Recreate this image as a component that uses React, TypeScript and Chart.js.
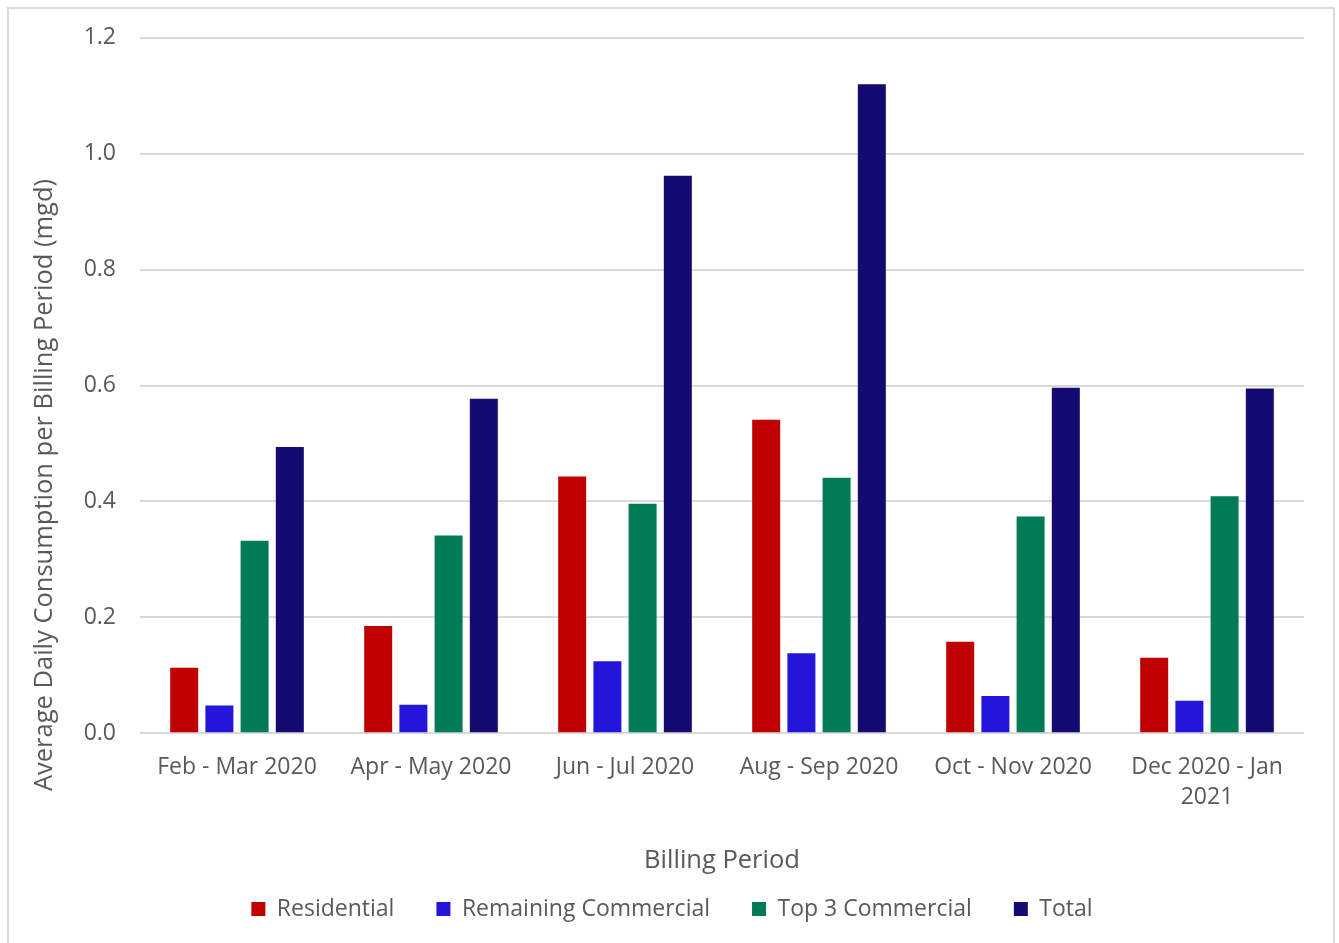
import { useEffect, useRef } from "react";
import { Chart, registerables } from "chart.js";

Chart.register(...registerables);

// Billing periods (last label wraps onto two lines)
const periods: (string | string[])[] = [
  "Feb - Mar 2020",
  "Apr - May 2020",
  "Jun - Jul 2020",
  "Aug - Sep 2020",
  "Oct - Nov 2020",
  ["Dec 2020 - Jan", "2021"],
];

// Average daily consumption (mgd)
const residential = [0.113, 0.185, 0.443, 0.541, 0.158, 0.13];
const remainingCommercial = [0.048, 0.049, 0.124, 0.138, 0.064, 0.056];
const top3Commercial = [0.332, 0.341, 0.396, 0.441, 0.374, 0.409];
const total = [0.494, 0.577, 0.962, 1.12, 0.596, 0.595];

const yTicks = [0, 0.2, 0.4, 0.6, 0.8, 1.0, 1.2];

const FONT = "'Open Sans', 'Noto Sans', sans-serif";
const TEXT = "#595959";
const GRID = "#d9d9d9";

const yTitleText = "Average Daily Consumption per Billing Period (mgd)";

// Draws the vertical value-axis title centred on the whole chart height.
const yTitlePlugin = {
  id: "yTitle",
  afterDraw(chart: Chart) {
    const { ctx } = chart;
    ctx.save();
    ctx.translate(45, 485);
    ctx.rotate(-Math.PI / 2);
    ctx.font = `25.5px ${FONT}`;
    ctx.fillStyle = TEXT;
    ctx.textAlign = "center";
    ctx.textBaseline = "middle";
    ctx.fillText(yTitleText, 0, 0);
    ctx.restore();
  },
};

// Nudges the legend row so it sits centred under the whole chart.
const legendOffsetPlugin = {
  id: "legendOffset",
  afterLayout(chart: Chart) {
    const legend: any = (chart as any).legend;
    if (!legend) return;
    legend.left += 20;
    legend.right += 20;
  },
};

export default function App() {
  const canvasRef = useRef<HTMLCanvasElement | null>(null);

  useEffect(() => {
    const canvas = canvasRef.current;
    if (!canvas) return;
    const chart = new Chart(canvas, {
      type: "bar",
      data: {
        labels: periods,
        datasets: [
          { label: "Residential", data: residential, backgroundColor: "#c00000" },
          { label: "Remaining Commercial", data: remainingCommercial, backgroundColor: "#2316da" },
          { label: "Top 3 Commercial", data: top3Commercial, backgroundColor: "#017b55" },
          { label: "Total", data: total, backgroundColor: "#130b6f" },
        ],
      },
      options: {
        responsive: false,
        animation: false,
        events: [],
        datasets: {
          bar: { categoryPercentage: 0.726, barPercentage: 0.795 },
        },
        layout: { padding: { top: 37, right: 35, bottom: 12.5, left: 0 } },
        scales: {
          x: {
            grid: { display: false },
            border: { display: false },
            ticks: {
              color: TEXT,
              padding: 11,
              maxRotation: 0,
              autoSkip: false,
              font: { family: FONT, size: 23, lineHeight: 1.3 },
            },
            title: {
              display: true,
              text: "Billing Period",
              color: TEXT,
              font: { family: FONT, size: 25.5, lineHeight: 1.2 },
              padding: { top: 22.7, bottom: -20.8 },
            },
          },
          y: {
            min: 0,
            max: 1.2,
            afterFit(scale: any) {
              scale.width = 140;
            },
            afterBuildTicks(scale: any) {
              scale.ticks = yTicks.map((v) => ({ value: v }));
            },
            grid: { color: GRID, lineWidth: 2, drawTicks: false },
            border: { display: false },
            ticks: {
              color: TEXT,
              padding: 24,
              font: { family: FONT, size: 23 },
              callback: (v: any) => Number(v).toFixed(1),
            },
          },
        },
        plugins: {
          legend: {
            position: "bottom",
            labels: {
              color: TEXT,
              boxWidth: 14,
              boxHeight: 14,
              padding: 42,
              font: { family: FONT, size: 23 },
            },
          },
          tooltip: { enabled: false },
        },
      },
      plugins: [yTitlePlugin, legendOffsetPlugin],
    });
    return () => chart.destroy();
  }, []);

  return (
    <div
      style={{
        position: "absolute",
        left: 0,
        top: 0,
        width: 1339,
        height: 943,
        background: "#ffffff",
        overflow: "hidden",
      }}
    >
      <canvas ref={canvasRef} width={1339} height={943} style={{ display: "block" }} />
      <div
        style={{
          position: "absolute",
          left: 7,
          top: 7,
          width: 1324,
          height: 960,
          border: "2px solid #dcdcdc",
          pointerEvents: "none",
        }}
      />
    </div>
  );
}
